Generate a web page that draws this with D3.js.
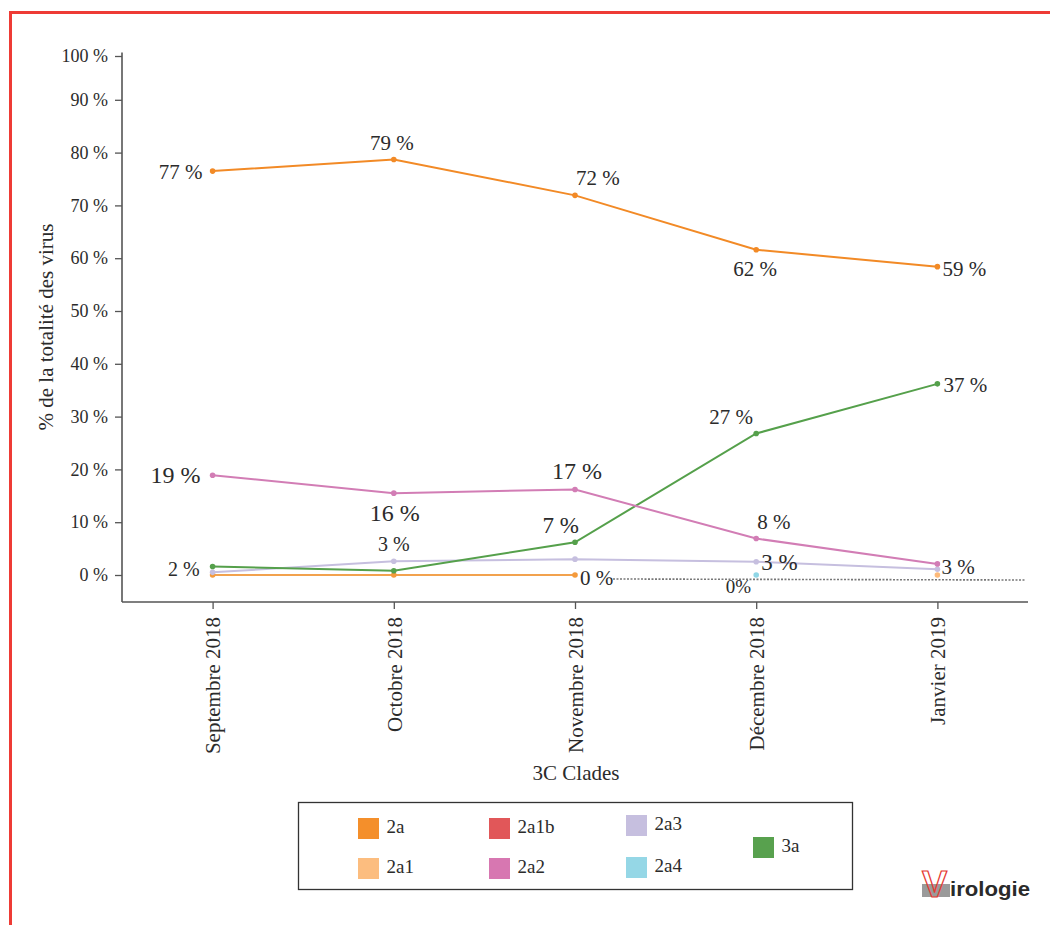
<!DOCTYPE html>
<html>
<head>
<meta charset="utf-8">
<script src="https://cdn.jsdelivr.net/npm/d3@7"></script>
<style>
  html, body { margin: 0; padding: 0; background: #fff; }
  svg { display: block; }
  text { font-family: "Liberation Serif", "Times New Roman", serif; fill: #2b2b2b; }
</style>
</head>
<body>
<svg id="chart" width="1050" height="925"></svg>
<script>
// months on the x axis
const months = ["Septembre 2018", "Octobre 2018", "Novembre 2018", "Décembre 2018", "Janvier 2019"];
const yTicks = [0, 10, 20, 30, 40, 50, 60, 70, 80, 90, 100];

// share of all viruses (%)
const clade2a = [76.5, 78.7, 71.9, 61.6, 58.4];
const clade2a1 = [0, 0, 0, null, 0];
const clade2a2 = [18.9, 15.5, 16.2, 6.9, 2.1];
const clade2a3 = [0.5, 2.6, 3.0, 2.5, 1.1];
const clade2a4 = [null, null, null, 0, null];
const clade3a = [1.6, 0.8, 6.2, 26.8, 36.2];

// printed value labels
const labels2a = ["77 %", "79 %", "72 %", "62 %", "59 %"];
const labels2a1 = [null, null, "0 %", null, null];
const labels2a2 = ["19 %", "16 %", "17 %", "8 %", "3 %"];
const labels2a3 = [null, "3 %", null, "3 %", null];
const labels2a4 = [null, null, null, "0%", null];
const labels3a = ["2 %", null, "7 %", "27 %", "37 %"];

// legend entries
const legendNames = ["2a", "2a1", "2a1b", "2a2", "2a3", "2a4", "3a"];
const legendColors = ["#f48f2b", "#fcbd7f", "#e15759", "#d777b1", "#c6bfdf", "#95d7e6", "#58a14e"];

// label placement: [anchor, dx, dy, font size]
const place2a = [["end", -10, 8, 21], ["middle", -2, -9, 21], ["start", 1, -10, 21], ["middle", -1, 26, 21], ["start", 5, 9, 21]];
const place2a1 = [null, null, ["start", 5, 10, 21], null, null];
const place2a2 = [["end", -12, 8, 24], ["middle", 1, 28, 24], ["middle", 2, -10, 24], ["start", 1, -10, 21], ["start", 4, 10, 21]];
const place2a3 = [null, ["middle", 0, -10, 20], null, ["start", 5, 8, 23], null];
const place2a4 = [null, null, null, ["end", -5, 18, 19], null];
const place3a = [["end", -13, 9, 20], null, ["end", 4, -9, 23], ["middle", -25, -9, 21], ["start", 6, 8, 21]];

const svg = d3.select("#chart");

// frame of the page
svg.append("rect")
  .attr("x", 10.5).attr("y", 12.5)
  .attr("width", 1200).attr("height", 1000)
  .attr("fill", "none")
  .attr("stroke", "#ee3b35")
  .attr("stroke-width", 3);

const x = d3.scalePoint().domain(months).range([122, 1028]).padding(0.5);
// the source axis squeezes the last step (90 -> 100)
const y = d3.scaleLinear().domain([0, 90, 100]).range([575, 99.8, 56]);
const axisY = 602;

// y axis
const gy = svg.append("g")
  .attr("transform", "translate(122,0)")
  .call(d3.axisLeft(y).tickValues(yTicks).tickFormat(d => d + " %").tickSize(7).tickPadding(7));
gy.select(".domain").remove();
gy.selectAll(".tick line").attr("stroke", "#555").attr("stroke-width", 1.3);
gy.selectAll(".tick text").attr("font-size", 18).attr("fill", "#2b2b2b");
svg.append("line")
  .attr("x1", 122).attr("x2", 122)
  .attr("y1", 52.5).attr("y2", axisY)
  .attr("stroke", "#555").attr("stroke-width", 1.6);

// x axis
const gx = svg.append("g")
  .attr("transform", `translate(0,${axisY})`)
  .call(d3.axisBottom(x).tickSize(7).tickPadding(0));
gx.select(".domain").remove();
gx.selectAll(".tick line").attr("stroke", "#555").attr("stroke-width", 1.3);
gx.selectAll(".tick text")
  .attr("font-size", 21)
  .attr("fill", "#2b2b2b")
  .attr("text-anchor", "end")
  .attr("transform", "translate(0,15) rotate(-90)")
  .attr("x", 0).attr("y", 0)
  .attr("dy", "0.35em");
svg.append("line")
  .attr("x1", 122).attr("x2", 1028)
  .attr("y1", axisY).attr("y2", axisY)
  .attr("stroke", "#555").attr("stroke-width", 1.6);

// axis titles
svg.append("text")
  .attr("transform", "translate(53,327) rotate(-90)")
  .attr("text-anchor", "middle")
  .attr("font-size", 21)
  .text("% de la totalité des virus");
svg.append("text")
  .attr("x", 576).attr("y", 780)
  .attr("text-anchor", "middle")
  .attr("font-size", 21)
  .text("3C Clades");

// dotted trace after the November 2a1 label
svg.append("line")
  .attr("x1", x(months[2]) + 38).attr("y1", y(0) + 4)
  .attr("x2", 1026).attr("y2", y(0) + 5)
  .attr("stroke", "#777")
  .attr("stroke-width", 1.6)
  .attr("stroke-dasharray", "2,1.5");

const series = [
  { values: clade2a1, labels: labels2a1, place: place2a1, line: "#f2a24e", dot: ["#f49a3c", "#f49a3c", "#f49a3c", null, "#fdba7a"] },
  { values: clade2a3, labels: labels2a3, place: place2a3, line: "#c6bfdf", dot: "#c6bfdf" },
  { values: clade3a, labels: labels3a, place: place3a, line: "#55a04b", dot: "#55a04b" },
  { values: clade2a2, labels: labels2a2, place: place2a2, line: "#d27db5", dot: "#d27db5" },
  { values: clade2a, labels: labels2a, place: place2a, line: "#f28a26", dot: "#f28a26" },
  { values: clade2a4, labels: labels2a4, place: place2a4, line: "#8fd6e6", dot: "#8fd6e6" }
];

const line = d3.line()
  .defined(d => d.v !== null)
  .x(d => x(d.m))
  .y(d => y(d.v));

series.forEach(s => {
  const pts = months.map((m, i) => ({ m, v: s.values[i], i }));
  svg.append("path")
    .datum(pts)
    .attr("d", line)
    .attr("fill", "none")
    .attr("stroke", s.line)
    .attr("stroke-width", 2);

  svg.selectAll(null)
    .data(pts.filter(d => d.v !== null))
    .enter()
    .append("circle")
    .attr("cx", d => x(d.m))
    .attr("cy", d => y(d.v))
    .attr("r", 2.8)
    .attr("fill", d => Array.isArray(s.dot) ? s.dot[d.i] : s.dot);
});

// value labels
series.forEach(s => {
  const lab = months.map((m, i) => ({ m, v: s.values[i], t: s.labels[i], p: s.place[i] }))
    .filter(d => d.t !== null);
  svg.selectAll(null)
    .data(lab)
    .enter()
    .append("text")
    .attr("x", d => x(d.m) + d.p[1])
    .attr("y", d => y(d.v) + d.p[2])
    .attr("text-anchor", d => d.p[0])
    .attr("font-size", d => d.p[3])
    .text(d => d.t);
});

// legend
svg.append("rect")
  .attr("x", 298.5).attr("y", 802.5)
  .attr("width", 554).attr("height", 87)
  .attr("fill", "none")
  .attr("stroke", "#333")
  .attr("stroke-width", 1.3);

const legendPos = [[358, 818], [358, 858], [489, 818], [489, 858], [626, 815], [626, 857], [753, 837]];
const leg = svg.selectAll(".legend-item")
  .data(legendNames.map((n, i) => ({ n, c: legendColors[i], p: legendPos[i] })))
  .enter()
  .append("g")
  .attr("class", "legend-item")
  .attr("transform", d => `translate(${d.p[0]},${d.p[1]})`);
leg.append("rect")
  .attr("width", 21).attr("height", 21)
  .attr("fill", d => d.c);
leg.append("text")
  .attr("x", 28.5).attr("y", 15)
  .attr("font-size", 19)
  .text(d => d.n);

// journal logo
const logo = svg.append("g");
logo.append("rect")
  .attr("x", 922).attr("y", 884)
  .attr("width", 28).attr("height", 13)
  .attr("fill", "#9a9a9a");
logo.append("text")
  .attr("transform", "translate(922,897) scale(1.05,1)")
  .attr("font-size", 36)
  .attr("font-weight", "bold")
  .style("font-family", "Liberation Sans")
  .style("fill", "none")
  .attr("stroke", "#e53a33")
  .attr("stroke-width", 1.2)
  .text("V");
logo.append("text")
  .attr("x", 950).attr("y", 896)
  .attr("font-size", 21)
  .attr("font-weight", "bold")
  .attr("textLength", 80)
  .attr("lengthAdjust", "spacingAndGlyphs")
  .attr("stroke", "#fff")
  .attr("stroke-width", 0.6)
  .style("fill", "#2a2a2a")
  .style("font-family", "Liberation Sans")
  .style("paint-order", "stroke")
  .text("irologie");
</script>
</body>
</html>
